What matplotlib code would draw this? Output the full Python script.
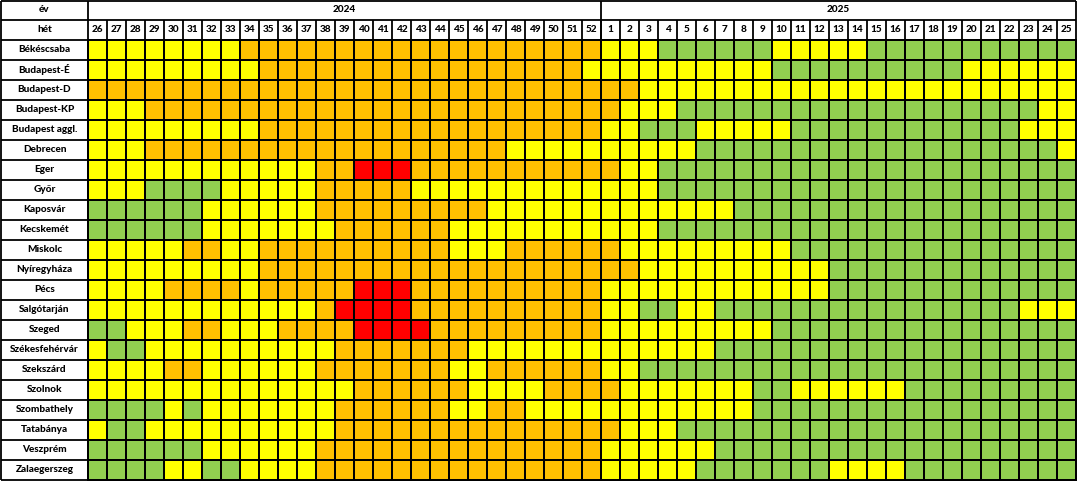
import numpy as np
import matplotlib
matplotlib.use("Agg")
import matplotlib.pyplot as plt
from matplotlib.colors import ListedColormap

# weekly alert level per city: G=green, Y=yellow, O=orange, R=red
cities = ["Békéscsaba", "Budapest-É", "Budapest-D", "Budapest-KP", "Budapest aggl.",
          "Debrecen", "Eger", "Győr", "Kaposvár", "Kecskemét", "Miskolc", "Nyíregyháza",
          "Pécs", "Salgótarján", "Szeged", "Székesfehérvár", "Szekszárd", "Szolnok",
          "Szombathely", "Tatabánya", "Veszprém", "Zalaegerszeg"]
weeks_2024 = list(range(26, 53))
weeks_2025 = list(range(1, 26))

# weeks 26-52 of 2024
levels_2024 = [
    "YYYYY YYYOO OOOOO OOOOO OOOOO OO",
    "YYYYY YYYYO OOOOO OOOOO OOOOO OY",
    "OOOOO OOOOO OOOOO OOOOO OOOOO OO",
    "YYYOO OOOOO OOOOO OOOOO OOOOO OO",
    "YYYYY YYYYO OOOOO OOOOO OOOOO OO",
    "YYYOO OOOOO OOOOO OOOOO OOYYY YY",
    "YYYYY YYYYY YYOOR RROOO OOOOO OO",
    "YYYGG GGYYY YYOOO OOYYY YYYYY YY",
    "GGGGG GYYYY YYOOO OOOOO OYYYY YY",
    "GGGGG GYYYY YYYOO OOOOY YYYYY YY",
    "YYYYY OOYYO OOOOO OOOOY YYOOO OO",
    "YYYYY YYYYO OOOOO OOOOO OOOOO OO",
    "YYYYO OOOYO OOOOR RROOO OOOOO OO",
    "YYYYY YYYYY YYORR RROOO OOOOO OO",
    "GGYYY OOYYY OOOOR RRROO OOOOO OO",
    "YGGYY YYYYY YYYOO OOOOO YYYYY YY",
    "YYYYO OYYYY YYOOO OOOOY YOOOO OO",
    "YYYYY YYYYY YYYYO OOOOO YYYYO OO",
    "GGGGY GYYYY YYYOO OOOOY YOOYY YY",
    "YGGYY YYYYY YYYOO OOOOO OOOOO OO",
    "GGGGG GYYYY YYOOO OOOOO OOOOO OO",
    "GGGGY YGGYY YYOOO OOOOO OOOOO OO",
]

# weeks 1-25 of 2025
levels_2025 = [
    "YYYGG GGGGY YYYYG GGGGG GGGGG",
    "YYYYY YYYYG GGGGG GGGGY YYYYY",
    "OOYYY YYYYY YYYYY YYYYY YYYYY",
    "OYYYG GGGGG GGGGG GGGGG GGGYY",
    "YYGGG YYYYY GGGGG GGGGG GGYYY",
    "YYYYY GGGGG GGGGG GGGGG GGGGY",
    "OYYGG GGGGG GGGGG GGGGG GGGGG",
    "YYYGG GGGGG GGGGG GGGGG GGGGG",
    "YYYYY YYGGG GGGGG GGGGG GGGGG",
    "YYYGG GGGGG GGGGG GGGGG GGGGG",
    "OYYYY YYYYY GGGGG GGGGG GGGGG",
    "OOYYY YYYYY YYGGG GGGGG GGGGG",
    "YYYYY YYYYY YYGGG GGGGG GGGGG",
    "YYGGY YGGGG GGGGG GGGGG GGYYY",
    "YYYYY YYYYG GGGGG GGGGG GGGGG",
    "YYYYY YGGGG GGGGG GGGGG GGGGG",
    "YYGGG GGGGG GGGGG GGGGG GGGGG",
    "OYYYY YYYGG YYYYY YGGGG GGGGG",
    "YYYYY YYYGG GGGGG GGGGG GGGGG",
    "OYYYG GGGGG GGGGG GGGGG GGGGG",
    "YYYYY YGGGG GGGGG GGGGG GGGGG",
    "YYYYY GGGGG GGYYY YGGGG GGGGG",
]

code = {"G": 0, "Y": 1, "O": 2, "R": 3}
grid = np.array([[code[c] for c in (a + b).replace(" ", "")]
                 for a, b in zip(levels_2024, levels_2025)])
n_rows, n_cols = grid.shape
n24 = len(weeks_2024)

cmap = ListedColormap(["#92D050", "#FFFF00", "#FFC000", "#FF0000"])

plt.rcParams['font.family'] = ['Lato', 'DejaVu Sans']
fig = plt.figure(figsize=(10.77, 4.82), dpi=100)
ax = fig.add_axes([0, 0, 1, 1])

# cell units: one week column = 19 px, one row = 20 px, label column = 88 px
lab_w = 88 / 19
lw = 1.3
ax.pcolormesh(np.arange(n_cols + 1), np.arange(n_rows + 1), grid, cmap=cmap,
              vmin=-0.5, vmax=3.5, edgecolors="black", linewidth=lw)

top = -1.95
left = -87 / 19
# label column and header borders
ax.hlines(np.arange(n_rows + 1), left, 0, color="black", lw=lw)
ax.hlines([top, -1], left, n_cols, color="black", lw=lw)
ax.vlines([left, 0], top, n_rows, color="black", lw=lw)
ax.vlines(np.arange(1, n_cols), -1, 0, color="black", lw=lw)
ax.vlines([n24, n_cols], top, 0, color="black", lw=lw)

fs = 7.2
fw = "black"
for i, name in enumerate(cities):
    ax.text(left / 2, i + 0.5, name, ha="center", va="center", fontsize=fs, fontweight=fw)
ax.text(left / 2, -1.5, "év", ha="center", va="center", fontsize=fs, fontweight=fw)
ax.text(left / 2, -0.5, "hét", ha="center", va="center", fontsize=fs, fontweight=fw)
for j, w in enumerate(weeks_2024 + weeks_2025):
    ax.text(j + 0.5, -0.5, str(w), ha="center", va="center", fontsize=fs, fontweight=fw)
ax.text(n24 / 2, -1.5, "2024", ha="center", va="center", fontsize=fs, fontweight=fw)
ax.text((n24 + n_cols) / 2, -1.5, "2025", ha="center", va="center", fontsize=fs, fontweight=fw)

ax.set_xlim(-lab_w, (1077 - 88) / 19)
ax.set_ylim((482 - 40) / 20, -2)
ax.axis("off")

fig.savefig("out.png", dpi=100, facecolor="white")
